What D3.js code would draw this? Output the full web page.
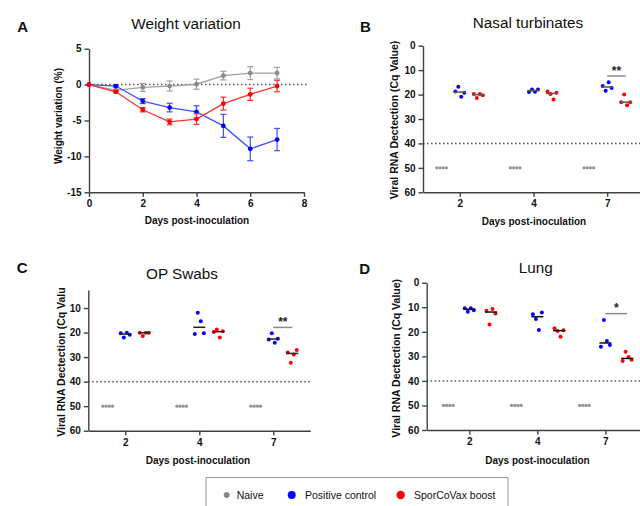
<!DOCTYPE html>
<html><head><meta charset="utf-8">
<script src="https://cdn.jsdelivr.net/npm/d3@7"></script>
<style>
body{margin:0;background:#fff}
svg{display:block}
</style></head><body>
<svg id="c" width="640" height="506"></svg>
<script>
// ---------- DATA ----------
const weightDays = [0, 1, 2, 3, 4, 5, 6, 7];
const weightTicksX = [0, 2, 4, 6, 8];
const weightTicksY = [5, 0, -5, -10, -15];
const naiveWeight    = [0, -0.8, -0.4, -0.2, 0.05, 1.25, 1.6, 1.6];
const naiveWeightErr = [0, 0.15, 0.55, 0.7, 0.7, 0.6, 0.9, 0.8];
const posWeight      = [0, -0.2, -2.3, -3.2, -3.8, -5.75, -8.95, -7.65];
const posWeightErr   = [0, 0.15, 0.35, 0.6, 0.85, 1.6, 1.65, 1.55];
const sporWeight     = [0, -1.0, -3.5, -5.2, -4.8, -2.65, -1.35, -0.2];
const sporWeightErr  = [0, 0.15, 0.3, 0.4, 0.75, 0.9, 0.85, 0.8];

const detectDays = ["2", "4", "7"];
const naiveCq = [50, 50, 50, 50];          // undetected animals, same each day
const detectionLimit = 40;

const nasalPositive = [[18.7, 16.8, 20.9, 19.3], [19.0, 17.9, 18.8, 17.9], [16.5, 18.4, 15.0, 17.3]];
const nasalSpor     = [[19.8, 21.4, 19.8, 20.3], [18.7, 19.8, 22.0, 19.3], [23.1, 20.0, 24.4, 23.1]];
const opPositive    = [[20.3, 22.0, 20.1, 20.9], [20.6, 11.9, 15.4, 20.3], [22.8, 20.3, 24.2, 22.5]];
const opSpor        = [[20.1, 21.4, 20.1, 20.1], [19.8, 18.7, 22.0, 19.5], [28.1, 32.3, 28.9, 27.1]];
const lungPositive  = [[10.4, 11.8, 10.4, 11.2], [12.9, 14.8, 19.3, 12.1], [26.1, 15.2, 23.7, 25.4]];
const lungSpor      = [[11.4, 17.0, 10.7, 12.5], [18.6, 19.7, 22.0, 19.4], [31.9, 28.1, 30.3, 31.4]];

const sigLevels = [12.4, 17.9, 12.6];      // Cq of significance bar (day 7) for B, C, D
const sigLabels = ["**", "**", "*"];

const seriesNames = ["Naive", "Positive control", "SporCoVax boost"];
const panelTitles = ["Weight variation", "Nasal turbinates", "OP Swabs", "Lung"];
const panelLetters = ["A", "B", "C", "D"];

// ---------- STYLE ----------
const FONT = '"Liberation Sans", Arial, Helvetica, sans-serif';
const COL = { naive: "#8a8a8a", pos: "#0000ff", spor: "#ff0000" };
const LINECOL = { naive: "#a0a0a0", pos: "#4050ff", spor: "#ff3030" };
const AX = "#404040";
const svg = d3.select("#c").attr("font-family", FONT);

function styleAxis(g) {
  g.selectAll("path,line").attr("stroke", AX).attr("stroke-width", 1.4);
  g.selectAll("text").attr("font-family", FONT).attr("font-size", 10)
    .attr("font-weight", "bold").attr("fill", "#111");
}
function text(g, x, y, s, o = {}) {
  return g.append("text").attr("x", x).attr("y", y).text(s)
    .attr("font-size", o.size || 10).attr("font-weight", o.weight || "normal")
    .attr("text-anchor", o.anchor || "start").attr("fill", o.fill || "#111");
}
function rotText(g, x, y, s, anchor) {
  return g.append("text").attr("transform", `translate(${x},${y}) rotate(-90)`)
    .text(s).attr("font-size", 10.5).attr("font-weight", "bold")
    .attr("text-anchor", anchor).attr("fill", "#111");
}

// ---------- PANEL A ----------
(function () {
  const g = svg.append("g");
  const x = d3.scaleLinear().domain([0, 8]).range([89, 304]);
  const y = d3.scaleLinear().domain([-15, 5]).range([192.3, 48.7]);

  g.append("line").attr("x1", x(0)).attr("x2", 307).attr("y1", y(0)).attr("y2", y(0))
    .attr("stroke", "#555").attr("stroke-width", 1.5).attr("stroke-dasharray", "1.5,2.5");

  g.append("g").attr("transform", `translate(0,${y(-15)})`)
    .call(d3.axisBottom(x).tickValues(weightTicksX).tickSize(4.5).tickSizeOuter(0)
      .tickPadding(3.5).tickFormat(d => String(d))).call(styleAxis);
  g.append("g").attr("transform", `translate(${x(0)},0)`)
    .call(d3.axisLeft(y).tickValues(weightTicksY).tickSize(4.5).tickSizeOuter(0)
      .tickPadding(3).tickFormat(d => String(d))).call(styleAxis);

  const series = [
    { k: "naive", v: naiveWeight, e: naiveWeightErr },
    { k: "pos", v: posWeight, e: posWeightErr },
    { k: "spor", v: sporWeight, e: sporWeightErr }
  ];
  const line = d3.line().x((d, i) => x(weightDays[i])).y(d => y(d));
  series.forEach(s => {
    const sg = g.append("g");
    sg.append("path").attr("d", line(s.v)).attr("fill", "none")
      .attr("stroke", LINECOL[s.k]).attr("stroke-width", 1.3);
    s.v.forEach((v, i) => {
      const cx = x(weightDays[i]);
      if (s.e[i] > 0) {
        sg.append("line").attr("x1", cx).attr("x2", cx).attr("y1", y(v - s.e[i])).attr("y2", y(v + s.e[i]))
          .attr("stroke", LINECOL[s.k]).attr("stroke-width", 1.2);
        [v - s.e[i], v + s.e[i]].forEach(w => sg.append("line").attr("x1", cx - 3).attr("x2", cx + 3)
          .attr("y1", y(w)).attr("y2", y(w)).attr("stroke", LINECOL[s.k]).attr("stroke-width", 1.2));
      }
      sg.append("circle").attr("cx", cx).attr("cy", y(v)).attr("r", 2.4).attr("fill", COL[s.k]);
    });
  });

  text(g, 17.3, 31.7, panelLetters[0], { size: 15, weight: "bold" });
  text(g, 186, 29, panelTitles[0], { size: 15.3, anchor: "middle" });
  text(g, 197, 224.3, "Days post-inoculation", { weight: "bold", anchor: "middle" });
  rotText(g, 61.5, 116, "Weight variation (%)", "middle").attr("font-size", 10);
})();

// ---------- PANELS B, C, D ----------
const jitter = [-4.5, -1.5, 1.5, 4.5];
const naiveSpread = [-4.8, -1.6, 1.6, 4.8];

function detectionPanel(o) {
  const g = svg.append("g");
  const x = d3.scalePoint().domain(detectDays).range([o.x0, o.x1]).padding(o.pad);
  const y = d3.scaleLinear().domain([0, 60]).range([o.y0, o.y60]);

  g.append("line").attr("x1", o.x0).attr("x2", o.dotEnd)
    .attr("y1", y(detectionLimit)).attr("y2", y(detectionLimit))
    .attr("stroke", "#555").attr("stroke-width", 1.5).attr("stroke-dasharray", "1.5,2.5");

  const yAx = y.copy().domain([o.yStart, 60]).range([y(o.yStart), y(60)]);
  g.append("g").attr("transform", `translate(${o.x0},0)`)
    .call(d3.axisLeft(yAx).tickValues(d3.range(Math.ceil(o.yStart / 10) * 10, 61, 10))
      .tickSize(4.5).tickSizeOuter(0).tickPadding(3)).call(styleAxis);
  g.append("g").attr("transform", `translate(0,${y(60)})`)
    .call(d3.axisBottom(x).tickSize(4.5).tickSizeOuter(0).tickPadding(3.5)).call(styleAxis);

  detectDays.forEach((d, di) => {
    const cx = x(d);
    // naive: all undetected
    naiveCq.forEach((v, i) => g.append("circle").attr("cx", cx + o.off[0] + naiveSpread[i])
      .attr("cy", y(v)).attr("r", 1.65).attr("fill", "#959595"));
    [["pos", o.pos[di], 0], ["spor", o.spor[di], o.off[2]]].forEach(([k, vals, off]) => {
      vals.forEach((v, i) => g.append("circle").attr("cx", cx + off + jitter[i])
        .attr("cy", y(v)).attr("r", 2).attr("fill", COL[k]));
      const m = d3.median(vals);
      g.append("line").attr("x1", cx + off - 6).attr("x2", cx + off + 6)
        .attr("y1", y(m)).attr("y2", y(m)).attr("stroke", o.medCol).attr("stroke-width", 1.5);
    });
  });

  // significance (day 7)
  const c7 = x(detectDays[2]);
  g.append("line").attr("x1", c7).attr("x2", c7 + o.off[2]).attr("y1", y(o.sig)).attr("y2", y(o.sig))
    .attr("stroke", "#8a8a8a").attr("stroke-width", 1.5);
  text(g, c7 + o.off[2] / 2, y(o.sig) - 1.2, o.sigLabel, { size: 12, weight: "bold", anchor: "middle", fill: "#222" });

  text(g, o.letter[0], o.letter[1], o.letter[2], { size: 15, weight: "bold" });
  text(g, o.title[0], o.title[1], o.title[2], { size: 15.3, anchor: "middle" });
  text(g, o.xlab[0], o.xlab[1], "Days post-inoculation", { weight: "bold", anchor: "middle" });
  rotText(g, o.ylab[0], o.ylab[1], o.ylab[2], o.ylab[3]);
}

detectionPanel({
  x0: 423, x1: 644, pad: 0.5, y0: 45.7, y60: 192.3, yStart: 0, dotEnd: 640,
  off: [-18.3, 0, 18.5], pos: nasalPositive, spor: nasalSpor, medCol: "#5a5a5a",
  sig: sigLevels[0], sigLabel: sigLabels[0],
  letter: [360, 31.7, panelLetters[1]], title: [528, 28.3, panelTitles[1]],
  xlab: [534, 225], ylab: [398, 120, "Viral RNA Dectection (Cq Value)", "middle"]
});
detectionPanel({
  x0: 88.3, x1: 310.3, pad: 0.5, y0: 283.5, y60: 430.7, yStart: 2.7, dotEnd: 310,
  off: [-17.6, 0, 19], pos: opPositive, spor: opSpor, medCol: "#222",
  sig: sigLevels[1], sigLabel: sigLabels[1],
  letter: [16.7, 273.3, panelLetters[2]], title: [182, 279.3, panelTitles[2]],
  xlab: [198, 464], ylab: [64.5, 436.7, "Viral RNA Dectection (Cq Valu", "start"]
});
detectionPanel({
  x0: 426.7, x1: 648, pad: 0.626, y0: 282.7, y60: 430, yStart: 0, dotEnd: 640,
  off: [-21, 0, 21.7], pos: lungPositive, spor: lungSpor, medCol: "#111",
  sig: sigLevels[2], sigLabel: sigLabels[2],
  letter: [359.3, 274, panelLetters[3]], title: [535.7, 273.3, panelTitles[3]],
  xlab: [537.5, 464], ylab: [400, 358.3, "Viral RNA Dectection (Cq Value)", "middle"]
});

// ---------- LEGEND ----------
(function () {
  const g = svg.append("g");
  g.append("rect").attr("x", 206).attr("y", 477.5).attr("width", 302).attr("height", 40)
    .attr("fill", "none").attr("stroke", "#9a9a9a").attr("stroke-width", 1);
  const items = [
    { k: "naive", cx: 226.7, r: 3, tx: 236.7 },
    { k: "pos", cx: 291.7, r: 4, tx: 305 },
    { k: "spor", cx: 400.7, r: 4.2, tx: 414 }
  ];
  items.forEach((it, i) => {
    g.append("circle").attr("cx", it.cx).attr("cy", 495).attr("r", it.r).attr("fill", COL[it.k]);
    text(g, it.tx, 498.8, seriesNames[i], { size: 10.5 });
  });
})();
</script>
</body></html>
